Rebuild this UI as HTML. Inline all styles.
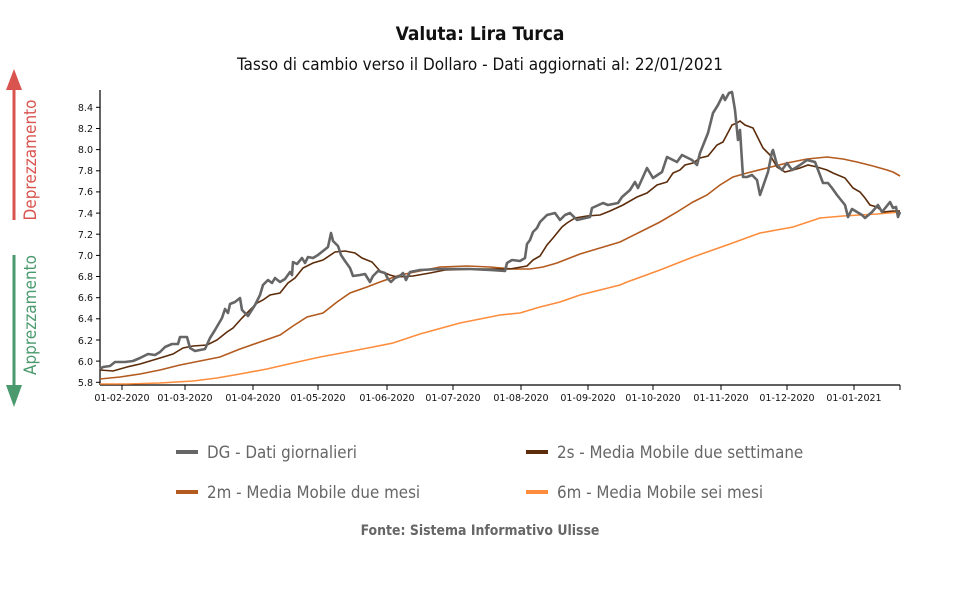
<!DOCTYPE html>
<html><head><meta charset="utf-8"><style>
body{margin:0;background:#fff;}
svg{display:block;font-family:"DejaVu Sans","Liberation Sans",sans-serif;}
</style></head><body>
<svg width="960" height="600" viewBox="0 0 960 600" xmlns="http://www.w3.org/2000/svg">
<text x="480" y="40" text-anchor="middle" font-size="19" font-weight="bold" fill="#111" style="font-family:'DejaVu Sans Condensed','DejaVu Sans',sans-serif">Valuta: Lira Turca</text>
<text x="480" y="70" text-anchor="middle" font-size="17" fill="#111" style="font-family:'DejaVu Sans Condensed','DejaVu Sans',sans-serif">Tasso di cambio verso il Dollaro - Dati aggiornati al: 22/01/2021</text>

<!-- arrows -->
<rect x="12.5" y="88" width="3" height="132" fill="#d9534f"/>
<polygon points="14,69 6,90 22,90" fill="#d9534f"/>
<text transform="translate(36,160) rotate(-90)" text-anchor="middle" font-size="17" fill="#d9534f" style="font-family:'DejaVu Sans Condensed','DejaVu Sans',sans-serif">Deprezzamento</text>
<rect x="12.5" y="255" width="3" height="132" fill="#4a9a6e"/>
<polygon points="14,407 6,385 22,385" fill="#4a9a6e"/>
<text transform="translate(36,315) rotate(-90)" text-anchor="middle" font-size="17" fill="#4a9a6e" style="font-family:'DejaVu Sans Condensed','DejaVu Sans',sans-serif">Apprezzamento</text>

<!-- axes -->
<g stroke="#000" stroke-width="1.2" fill="none">
<line x1="100" y1="90" x2="100" y2="385"/>
<line x1="100" y1="385" x2="900" y2="385"/>
</g>
<g stroke="#000" stroke-width="1">
<line x1="96" y1="107.3" x2="100" y2="107.3"/><line x1="96" y1="128.5" x2="100" y2="128.5"/>
<line x1="96" y1="149.6" x2="100" y2="149.6"/><line x1="96" y1="170.8" x2="100" y2="170.8"/>
<line x1="96" y1="191.9" x2="100" y2="191.9"/><line x1="96" y1="213.1" x2="100" y2="213.1"/>
<line x1="96" y1="234.2" x2="100" y2="234.2"/><line x1="96" y1="255.4" x2="100" y2="255.4"/>
<line x1="96" y1="276.5" x2="100" y2="276.5"/><line x1="96" y1="297.7" x2="100" y2="297.7"/>
<line x1="96" y1="318.8" x2="100" y2="318.8"/><line x1="96" y1="340" x2="100" y2="340"/>
<line x1="96" y1="361.1" x2="100" y2="361.1"/><line x1="96" y1="382.3" x2="100" y2="382.3"/>
<line x1="122" y1="385" x2="122" y2="390"/><line x1="185" y1="385" x2="185" y2="390"/>
<line x1="253" y1="385" x2="253" y2="390"/><line x1="318" y1="385" x2="318" y2="390"/>
<line x1="387" y1="385" x2="387" y2="390"/><line x1="453" y1="385" x2="453" y2="390"/>
<line x1="521" y1="385" x2="521" y2="390"/><line x1="588" y1="385" x2="588" y2="390"/>
<line x1="653" y1="385" x2="653" y2="390"/><line x1="721" y1="385" x2="721" y2="390"/>
<line x1="787" y1="385" x2="787" y2="390"/><line x1="854" y1="385" x2="854" y2="390"/>
<line x1="900" y1="385" x2="900" y2="390"/>
</g>
<g font-size="9.5" fill="#111" text-anchor="end">
<text x="93" y="111">8.4</text><text x="93" y="132">8.2</text><text x="93" y="153">8.0</text>
<text x="93" y="174">7.8</text><text x="93" y="195">7.6</text><text x="93" y="217">7.4</text>
<text x="93" y="238">7.2</text><text x="93" y="259">7.0</text><text x="93" y="280">6.8</text>
<text x="93" y="301">6.6</text><text x="93" y="322">6.4</text><text x="93" y="344">6.2</text>
<text x="93" y="365">6.0</text><text x="93" y="386">5.8</text>
</g>
<g font-size="9.5" fill="#111" text-anchor="middle">
<text x="122" y="401">01-02-2020</text><text x="185" y="401">01-03-2020</text>
<text x="253" y="401">01-04-2020</text><text x="318" y="401">01-05-2020</text>
<text x="387" y="401">01-06-2020</text><text x="453" y="401">01-07-2020</text>
<text x="521" y="401">01-08-2020</text><text x="588" y="401">01-09-2020</text>
<text x="653" y="401">01-10-2020</text><text x="721" y="401">01-11-2020</text>
<text x="787" y="401">01-12-2020</text><text x="854" y="401">01-01-2021</text>
</g>

<!-- 6m -->
<polyline fill="none" stroke="#fd8d3c" stroke-width="1.6" points="100,384 127,384 160,383 193,381 217,378 240,374 267,369 293,363 320,357 347,352 373,347 393,343 420,334 460,323 500,315 520,313 540,307 560,302 580,295 600,290 620,285 627,282 660,270 693,257 727,245 760,233 793,227 820,218 843,216 877,214 900,212"/>
<!-- 2m -->
<polyline fill="none" stroke="#b35a1f" stroke-width="1.6" points="100,379 120,377 140,374 160,370 180,365 200,361 220,357 240,349 260,342 280,335 293,326 307,317 323,313 337,302 350,293 367,287 380,282 400,275 420,271 440,267 467,266 490,267 513,269 530,269 543,267 557,263 580,254 600,248 620,242 640,232 660,222 677,212 693,202 707,195 720,185 733,177 747,173 767,168 787,163 807,159 827,157 843,159 857,162 873,166 887,170 893,172 900,176"/>
<!-- 2s -->
<polyline fill="none" stroke="#5c2c0b" stroke-width="1.6" points="100,370 113,371 127,367 140,364 160,358 173,354 183,348 193,346 207,345 217,340 227,332 233,328 242,318 247,313 257,303 263,300 270,295 280,293 288,283 295,278 303,268 313,263 323,260 335,252 345,251 355,253 362,258 372,262 380,271 390,275 397,277 413,276 430,273 445,270 480,269 510,269 527,266 533,260 540,256 547,245 553,238 562,227 567,223 575,218 587,216 600,215 610,211 623,205 637,197 647,193 657,185 667,182 673,173 680,170 685,165 693,163 700,158 708,156 717,145 723,142 732,125 737,123 740,121 745,125 753,128 758,138 763,148 770,155 777,167 785,172 793,170 800,168 808,165 817,167 827,170 833,173 845,178 853,188 860,192 865,198 870,205 877,207 883,212 893,211 900,211"/>
<!-- DG -->
<polyline fill="none" stroke="#666" stroke-width="2.6" stroke-linejoin="round" points="100,369 103,367 110,366 115,362 125,362 133,361 140,358 148,354 155,355 160,352 165,347 172,344 178,344 180,337 187,337 190,348 195,351 205,349 210,338 215,330 222,318 225,309 228,313 230,304 235,302 240,298 242,310 248,316 255,305 260,295 263,285 268,280 272,283 275,278 280,282 285,279 290,272 292,275 293,262 297,264 302,258 305,263 308,257 313,258 318,255 323,251 328,247 331,233 333,241 338,246 341,255 345,261 350,268 353,276 360,275 365,274 370,282 373,276 378,271 385,273 388,279 391,282 395,278 400,276 403,273 406,280 410,272 420,270 440,269 470,269 490,270 505,271 507,263 512,260 520,261 525,258 527,244 530,240 533,232 537,228 540,222 547,215 555,213 560,220 565,215 570,213 577,220 590,217 592,208 603,203 608,205 618,203 622,197 630,190 635,182 638,188 647,168 653,178 662,172 667,157 677,162 682,155 692,160 697,165 700,153 708,133 713,113 718,105 723,95 725,100 729,93 732,92 735,110 738,140 740,130 743,177 747,177 752,175 757,180 760,195 768,172 772,152 773,150 777,165 782,170 787,163 792,170 800,165 807,160 815,162 823,183 828,183 832,188 837,195 845,205 848,217 852,209 862,215 865,218 872,212 878,205 882,212 890,202 893,208 896,207 898,217 900,212"/>

<!-- legend -->
<g font-size="16.8" fill="#666" style="font-family:'DejaVu Sans Condensed','DejaVu Sans',sans-serif">
<rect x="176" y="450" width="22" height="4" fill="#666"/>
<text x="207" y="458">DG - Dati giornalieri</text>
<rect x="526" y="450" width="22" height="4" fill="#5c2c0b"/>
<text x="557" y="458">2s - Media Mobile due settimane</text>
<rect x="176" y="490" width="22" height="4" fill="#b35a1f"/>
<text x="207" y="498">2m - Media Mobile due mesi</text>
<rect x="526" y="490" width="22" height="4" fill="#fd8d3c"/>
<text x="557" y="498">6m - Media Mobile sei mesi</text>
</g>
<text x="480" y="535" text-anchor="middle" font-size="13.9" font-weight="bold" fill="#666" style="font-family:'DejaVu Sans Condensed','DejaVu Sans',sans-serif">Fonte: Sistema Informativo Ulisse</text>
</svg>
</body></html>
